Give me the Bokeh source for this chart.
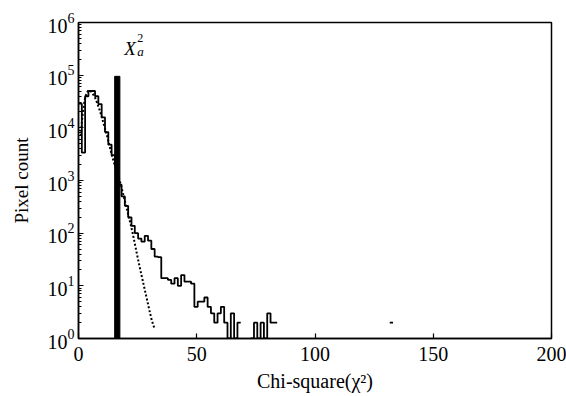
import numpy as np
from bokeh.plotting import figure
from bokeh.models import Range1d, Label, FixedTicker
from bokeh.embed import file_html
from bokeh.resources import INLINE

# ---------------- data ----------------
bin_width = 1.4
hist_counts = [28800, 3390, 39800, 50100, 50100, 39800, 28200, 15800, 8320, 4790,
               3020, 1910, 832, 501, 331, 200, 138, 100, 79, 69,
               89, 72, 50, 36, 35, 14, 14, 13, 11, 14,
               10, 16, 12, 12, 11, 4, 5, 5, 6, 4,
               3, 2, 3, 4, 2, 1, 3, 1, 2, 0,
               0, 0, 1, 2, 1, 2, 1, 3, 2, 2,
               0, 0, 0, 0, 0, 0, 0, 0, 0, 0,
               0, 0, 0, 0, 0, 0, 0, 0, 0, 0,
               0, 0, 0, 0, 0, 0, 0, 0, 0, 0,
               0, 0, 0, 0, 2, 0]

fit_x = [1.0, 1.5, 2.0, 2.5, 3.0, 3.5, 4.0, 4.5, 5.0, 5.5, 6.0, 7.0, 8.0, 9.0,
         10.0, 11.0, 12.0, 13.0, 14.0, 15.0, 16.0, 17.0, 18.0, 19.0, 20.0,
         21.0, 22.0, 23.0, 24.0, 25.0, 26.0, 27.0, 28.0, 29.0, 30.0, 31.0, 32.0]
fit_counts = [7080, 14100, 22400, 31600, 39800, 45700, 50100, 51300, 50100, 47900,
              44700, 37200, 28800, 21400, 15100, 10500, 7240, 4790, 3160, 2190,
              1580, 1150, 794, 525, 347, 229, 151, 95.5, 57.5, 34.7, 21.4, 13.5,
              8.5, 5.4, 3.4, 2.2, 1.6]

chi2_threshold = 16.4
threshold_width = 2.2
threshold_height = 95000

x_ticks = [0, 50, 100, 150, 200]
y_ticks = [1, 10, 100, 1000, 10000, 100000, 1000000]

FONT = "Liberation Serif"

# ---------------- figure ----------------
p = figure(width=566, height=396, output_backend="svg", toolbar_location=None,
           y_axis_type="log", x_range=Range1d(0, 200), y_range=Range1d(1, 1e6),
           min_border_left=78, min_border_right=15, min_border_top=22,
           min_border_bottom=58)
p.grid.visible = False
p.outline_line_color = "black"
p.outline_line_width = 1.5
p.background_fill_color = "white"
p.border_fill_color = "white"

# histogram step line (zeros are gaps on a log scale)
edges = np.arange(len(hist_counts) + 1) * bin_width
sx, sy = [], []
for i, c in enumerate(hist_counts):
    v = float(c) if c > 0 else np.nan
    sx += [edges[i], edges[i + 1]]
    sy += [v, v]
p.line(sx, sy, line_color="black", line_width=1.8)

# fitted chi-square distribution (dotted)
p.line(fit_x, fit_counts, line_color="black", line_width=2, line_dash="2 2")

# threshold bar
p.quad(left=[chi2_threshold - threshold_width / 2], right=[chi2_threshold + threshold_width / 2],
       bottom=[1], top=[threshold_height], fill_color="black", line_color="black")

# threshold label  X_a^2
p.add_layout(Label(x=chi2_threshold, y=threshold_height, x_offset=7, y_offset=28,
                   text="X", text_font=FONT, text_font_style="italic", text_color="black",
                   text_font_size="19px", text_baseline="alphabetic"))
p.add_layout(Label(x=chi2_threshold, y=threshold_height, x_offset=20, y_offset=38,
                   text="2", text_font=FONT, text_font_size="12px", text_color="black",
                   text_baseline="alphabetic"))
p.add_layout(Label(x=chi2_threshold, y=threshold_height, x_offset=20, y_offset=25,
                   text="a", text_font=FONT, text_font_style="italic", text_color="black",
                   text_font_size="13px", text_baseline="alphabetic"))

# axes
p.xaxis.ticker = FixedTicker(ticks=x_ticks)
minor = [m * d for d in y_ticks[:-1] for m in range(2, 10)]
p.yaxis.ticker = FixedTicker(ticks=y_ticks, minor_ticks=minor)
for ax in (p.xaxis[0], p.yaxis[0]):
    ax.axis_line_width = 1.5
    ax.major_tick_in = 5
    ax.major_tick_out = 0
    ax.minor_tick_in = 3
    ax.minor_tick_out = 0
    ax.major_tick_line_width = 1.2
    ax.major_label_text_font = FONT
    ax.major_label_text_font_size = "20px"
    ax.major_label_text_color = "black"
    ax.axis_label_text_font = FONT
    ax.axis_label_text_font_style = "normal"
    ax.axis_label_text_color = "black"
p.xaxis.minor_tick_line_color = None
p.xaxis.major_label_standoff = 8
p.yaxis.major_label_standoff = 4
p.xaxis.axis_label = "Chi-square(χ²)"
p.xaxis.axis_label_text_font_size = "20px"
p.xaxis.axis_label_standoff = 6
p.yaxis.axis_label = "Pixel count"
p.yaxis.axis_label_text_font_size = "19px"
p.yaxis.axis_label_standoff = 13

open("out.html", "w").write(file_html(p, INLINE))
